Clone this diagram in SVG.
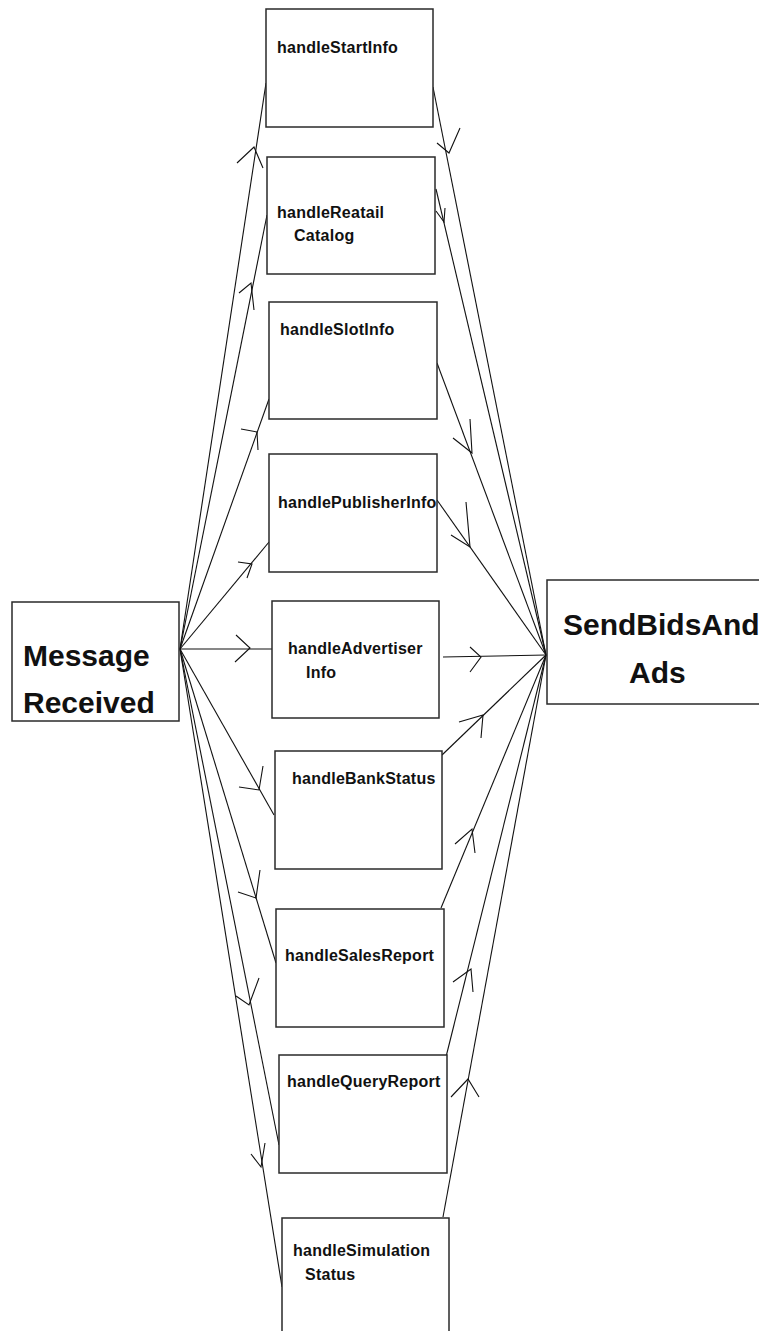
<svg xmlns="http://www.w3.org/2000/svg" width="759" height="1331" viewBox="0 0 759 1331">
<style>
.box{fill:#fff;stroke:#2a2a2a;stroke-width:1.5}
.lbl{font-family:"Liberation Sans",Arial,sans-serif;font-weight:bold;font-size:16px;letter-spacing:0.25px;fill:#111}
.big{font-family:"Liberation Sans",Arial,sans-serif;font-weight:bold;font-size:30px;fill:#111}
.ln{fill:none;stroke:#111;stroke-width:1.1}
</style>
<rect width="759" height="1331" fill="#fff"/>
<g id="connectors">
<line class="ln" x1="180" y1="649" x2="266" y2="83"/>
<line class="ln" x1="180" y1="649" x2="267" y2="215"/>
<line class="ln" x1="180" y1="649" x2="269" y2="399"/>
<line class="ln" x1="180" y1="649" x2="269" y2="542"/>
<line class="ln" x1="180" y1="649" x2="272" y2="649"/>
<line class="ln" x1="180" y1="649" x2="274" y2="815"/>
<line class="ln" x1="180" y1="649" x2="276" y2="963"/>
<line class="ln" x1="180" y1="649" x2="279" y2="1145"/>
<line class="ln" x1="180" y1="649" x2="282" y2="1287"/>
<polyline class="ln" points="237,163 254,147 263,168"/>
<polyline class="ln" points="239,293 251,283 254,310"/>
<polyline class="ln" points="241,429 257,432 258,450"/>
<polyline class="ln" points="238,562 252,564 247,578"/>
<polyline class="ln" points="236,635 250,648 235,662"/>
<polyline class="ln" points="239,787 259,790 263,766"/>
<polyline class="ln" points="238,892 256,898 260,870"/>
<polyline class="ln" points="236,996 249,1005 259,978"/>
<polyline class="ln" points="251,1154 261,1167 265,1143"/>
<line class="ln" x1="433" y1="87" x2="546" y2="655"/>
<line class="ln" x1="436" y1="189" x2="546" y2="655"/>
<line class="ln" x1="437" y1="363" x2="546" y2="655"/>
<line class="ln" x1="437" y1="500" x2="546" y2="655"/>
<line class="ln" x1="443" y1="657" x2="546" y2="655"/>
<line class="ln" x1="442" y1="755" x2="546" y2="655"/>
<line class="ln" x1="441" y1="908" x2="546" y2="655"/>
<line class="ln" x1="446" y1="1057" x2="546" y2="655"/>
<line class="ln" x1="443" y1="1217" x2="546" y2="655"/>
<polyline class="ln" points="437,143 449,153 460,128"/>
<polyline class="ln" points="436,211 444,222 445,208"/>
<polyline class="ln" points="453,438 472,453 470,419"/>
<polyline class="ln" points="451,535 470,547 466,502"/>
<polyline class="ln" points="470,647 481,657 470,672"/>
<polyline class="ln" points="459,722 483,715 481,738"/>
<polyline class="ln" points="455,844 472,829 475,853"/>
<polyline class="ln" points="453,982 471,969 473,992"/>
<polyline class="ln" points="451,1097 468,1079 479,1097"/>
</g>
<g id="message-received">
<rect class="box" x="12" y="602" width="167" height="119"/>
<text class="big" x="23" y="666">Message</text>
<text class="big" x="23" y="713">Received</text>
</g>
<g id="send-bids-and-ads">
<rect class="box" x="547" y="580" width="220" height="124"/>
<text class="big" x="563" y="635">SendBidsAnd</text>
<text class="big" x="629" y="683">Ads</text>
</g>
<g id="handle-start-info">
<rect class="box" x="266" y="9" width="167" height="118"/>
<text class="lbl" x="277" y="53">handleStartInfo</text>
</g>
<g id="handle-retail-catalog">
<rect class="box" x="267" y="157" width="168" height="117"/>
<text class="lbl" x="277" y="218">handleReatail</text>
<text class="lbl" x="294" y="241">Catalog</text>
</g>
<g id="handle-slot-info">
<rect class="box" x="269" y="302" width="168" height="117"/>
<text class="lbl" x="280" y="335">handleSlotInfo</text>
</g>
<g id="handle-publisher-info">
<rect class="box" x="269" y="454" width="168" height="118"/>
<text class="lbl" x="278" y="508">handlePublisherInfo</text>
</g>
<g id="handle-advertiser-info">
<rect class="box" x="272" y="601" width="167" height="117"/>
<text class="lbl" x="288" y="654">handleAdvertiser</text>
<text class="lbl" x="306" y="678">Info</text>
</g>
<g id="handle-bank-status">
<rect class="box" x="275" y="751" width="167" height="118"/>
<text class="lbl" x="292" y="784">handleBankStatus</text>
</g>
<g id="handle-sales-report">
<rect class="box" x="276" y="909" width="168" height="118"/>
<text class="lbl" x="285" y="961">handleSalesReport</text>
</g>
<g id="handle-query-report">
<rect class="box" x="279" y="1055" width="168" height="118"/>
<text class="lbl" x="287" y="1087">handleQueryReport</text>
</g>
<g id="handle-simulation-status">
<rect class="box" x="282" y="1218" width="167" height="130"/>
<text class="lbl" x="293" y="1256">handleSimulation</text>
<text class="lbl" x="305" y="1280">Status</text>
</g>
</svg>
